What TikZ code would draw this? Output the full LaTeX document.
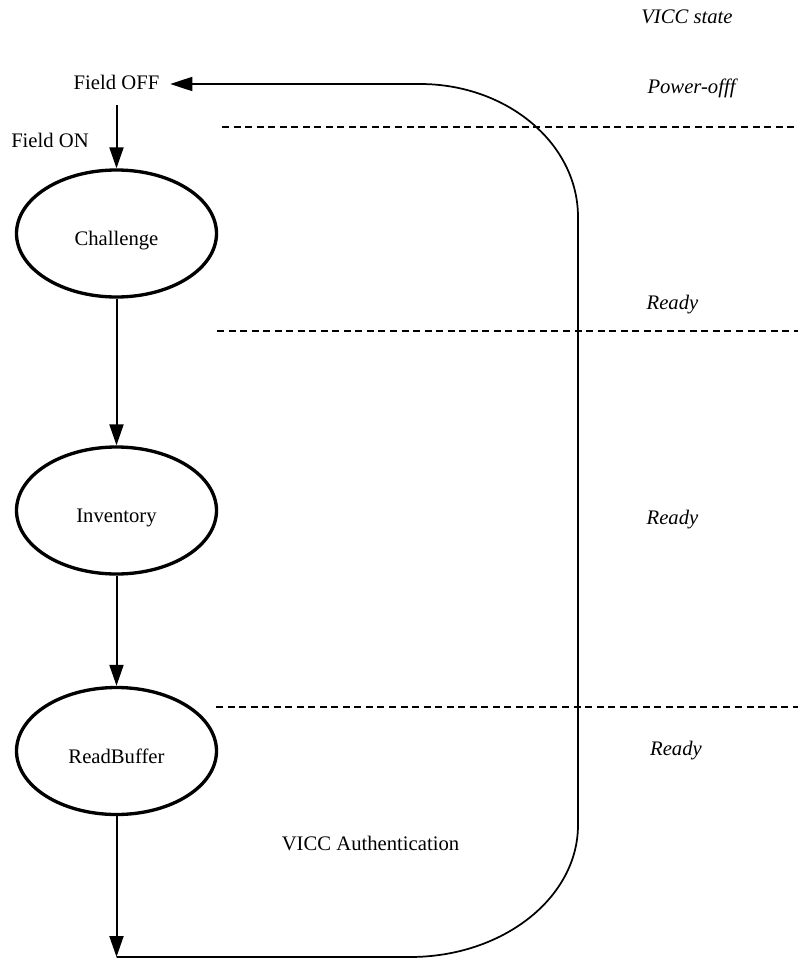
\documentclass[tikz,border=0pt]{standalone}
\usepackage{fontspec}
\setmainfont{Liberation Serif}
\usetikzlibrary{shapes.geometric,arrows.meta}
\begin{document}
\begin{tikzpicture}[x=0.75pt,y=-0.75pt,
  every node/.style={font=\fontsize{15.5pt}{18pt}\selectfont},
  statebox/.style={ellipse,draw,line width=2.5pt,minimum width=150pt,minimum height=95.25pt,inner sep=0pt,text height=18pt,text depth=0pt},
  flow/.style={line width=1.5pt,-{Triangle[length=15.75pt,width=10.5pt]}},
  loopline/.style={line width=1.3pt,-{Triangle[length=16.5pt,width=10.5pt]}},
  sep/.style={line width=1.8pt,dash pattern=on 5.25pt off 3.4pt},
  lbl/.style={anchor=base,inner sep=0pt},
  statelbl/.style={anchor=base,inner sep=0pt,font=\fontsize{15.5pt}{18pt}\selectfont\itshape}]
\useasboundingbox (0,0) rectangle (798,960);

% labels on right
\node[statelbl] (vs) at (687,23) {VICC state};
\node[statelbl] (po) at (691.5,93) {Power-offf};
\node[statelbl] (r1) at (672.5,309) {Ready};
\node[statelbl] (r2) at (672.5,524) {Ready};
\node[statelbl] (r3) at (676,755) {Ready};

% dashed separators
\coordinate (d1a) at (222,127); \coordinate (d1b) at (798,127);
\coordinate (d2a) at (217,331); \coordinate (d2b) at (798,331);
\coordinate (d3a) at (216,707); \coordinate (d3b) at (798,707);
\draw[sep] (d1a) -- (d1b);
\draw[sep] (d2a) -- (d2b);
\draw[sep] (d3a) -- (d3b);

% nodes
\node[minimum width=80.25pt,minimum height=31.5pt,inner sep=0pt,text height=10pt,text depth=1.4pt] (fieldoff) at (116.5,84) {Field OFF};
\node[lbl] (fieldon) at (50,147) {Field ON};
\node[statebox] (challenge) at (116.5,233.5) {Challenge};
\node[statebox] (inventory) at (116.5,510.5) {Inventory};
\node[statebox] (readbuffer) at (116.5,751) {ReadBuffer};
\node[lbl] (auth) at (370.5,850) {VICC Authentication};
\coordinate (bot) at (116.5,957);

% arrows
\draw[flow] (fieldoff.south) -- (challenge.north);
\draw[flow] (challenge.south) -- (inventory.north);
\draw[flow] (inventory.south) -- (readbuffer.north);
\draw[flow] (readbuffer.south) -- (bot);

% return loop
\draw[loopline] (bot) -- (410,957)
  .. controls (502.7,957) and (578,897.9) .. (578,825)
  -- (578,217)
  .. controls (578,143.6) and (507.2,84) .. (420,84)
  -- (fieldoff);
\end{tikzpicture}
\end{document}
